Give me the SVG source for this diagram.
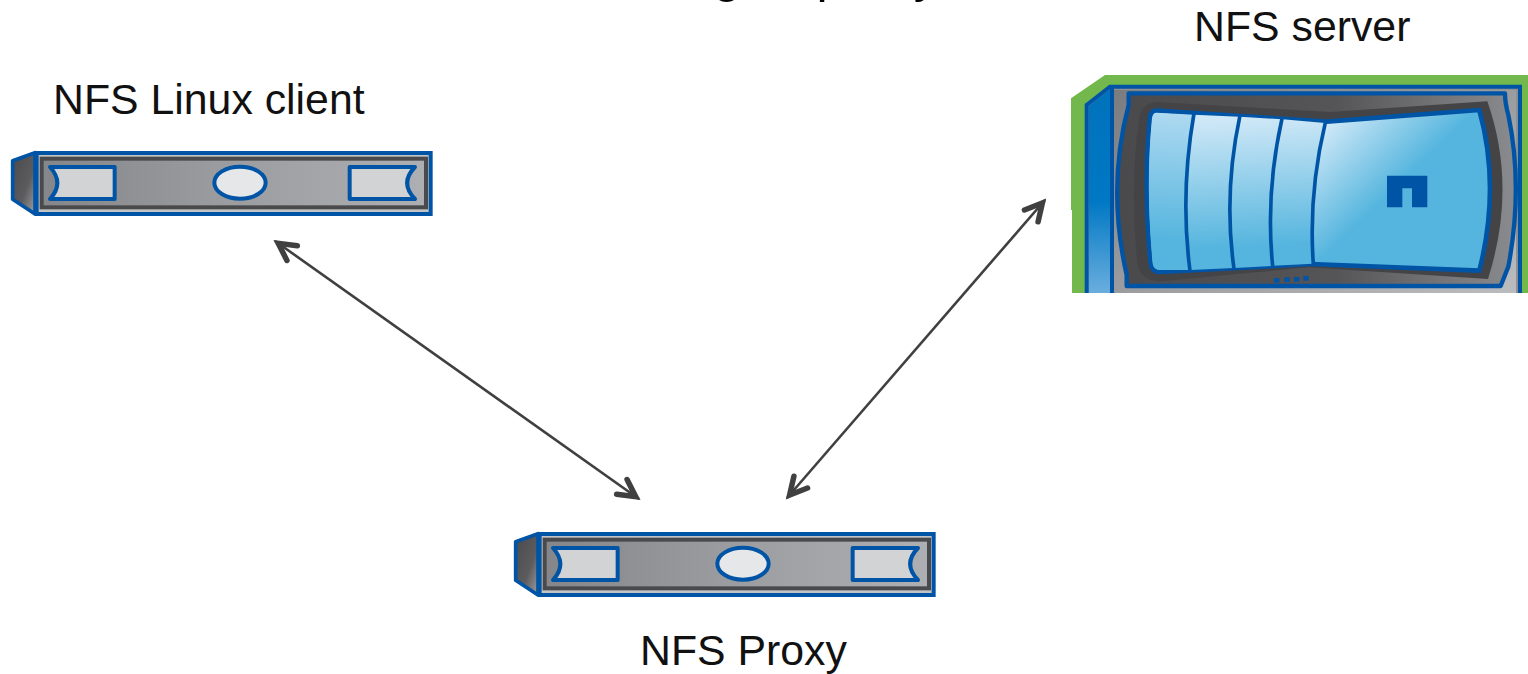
<svg xmlns="http://www.w3.org/2000/svg" xmlns:xlink="http://www.w3.org/1999/xlink" width="1528" height="674" viewBox="0 0 1528 674">
<style>
.lbl{font-family:"Liberation Sans",Arial,sans-serif;font-size:42.8px;fill:#111}
.title{font-family:"Liberation Sans",Arial,sans-serif;font-size:50px;fill:#000}
.conn{fill:none;stroke:#404040;stroke-width:2.6;marker-start:url(#arrow);marker-end:url(#arrow)}
.b{stroke:#0054a6;fill:none}
</style>
<defs>
<marker id="arrow" markerUnits="userSpaceOnUse" markerWidth="40" markerHeight="40" viewBox="-30 -20 40 40" refX="0" refY="0" orient="auto-start-reverse">
<polyline points="-21,-9 -4,0 -21,9" fill="none" stroke="#404040" stroke-width="5.5" stroke-linecap="round" stroke-linejoin="miter" stroke-miterlimit="10"/>
</marker>
<linearGradient id="rack" x1="0" x2="1" y1="0" y2="0"><stop offset="0" stop-color="#858689"/><stop offset=".45" stop-color="#9a9b9e"/><stop offset="1" stop-color="#aeafb2"/></linearGradient>
<linearGradient id="nose" x1="0" x2="1" y1="0" y2="1"><stop offset="0" stop-color="#4a4a4c"/><stop offset=".6" stop-color="#5c5c5e"/><stop offset="1" stop-color="#a0a0a2"/></linearGradient>
<linearGradient id="side" x1="0" x2="0" y1="0" y2="1"><stop offset="0" stop-color="#0072bc"/><stop offset=".55" stop-color="#0078c4"/><stop offset="1" stop-color="#6aaede"/></linearGradient>
<linearGradient id="glass" gradientUnits="userSpaceOnUse" x1="620" y1="170" x2="640" y2="600"><stop offset="0" stop-color="#cfe8f7"/><stop offset=".9" stop-color="#55b5de"/></linearGradient>
<linearGradient id="glass2" gradientUnits="userSpaceOnUse" x1="800" y1="190" x2="1030" y2="430"><stop offset="0" stop-color="#d0e9f7"/><stop offset=".85" stop-color="#55b5de"/></linearGradient>
<linearGradient id="glass3" gradientUnits="userSpaceOnUse" x1="360" y1="160" x2="340" y2="540"><stop offset="0" stop-color="#aed9f1"/><stop offset="1" stop-color="#55b5de"/></linearGradient>
<linearGradient id="bezel" x1="0" x2="1" y1="0" y2="0"><stop offset="0" stop-color="#4a4a4c"/><stop offset=".55" stop-color="#555557"/><stop offset="1" stop-color="#8a8b8e"/></linearGradient>
<linearGradient id="face" x1="0" x2="1" y1="0" y2="1"><stop offset="0" stop-color="#7b7c7f"/><stop offset="1" stop-color="#bbbcbf"/></linearGradient>
<g id="rackUnit" transform="scale(.33333)">
<path d="M38,62 L105,38 L105,222 L38,178 Z" fill="url(#nose)" stroke="#0054a6" stroke-width="11" stroke-linejoin="round"/>
<rect x="110" y="39" width="1182" height="183" fill="#c2c3c5" stroke="#0054a6" stroke-width="12"/>
<rect x="125" y="56" width="1153" height="146" fill="url(#rack)" stroke="#4a4a4c" stroke-width="12"/>
<path d="M150,81 L344,81 L344,177 L150,177 Q194,129 150,81 Z" fill="#d1d3d4" stroke="#0054a6" stroke-width="12" stroke-linejoin="round"/>
<path d="M1049,81 L1245,81 Q1198,129 1245,177 L1049,177 Z" fill="#d1d3d4" stroke="#0054a6" stroke-width="12" stroke-linejoin="round"/>
<ellipse cx="720" cy="128" rx="77" ry="48" fill="#e6e7e9" stroke="#0054a6" stroke-width="12"/>
</g>
</defs>
<rect width="1528" height="674" fill="#fff"/>
<text class="title" x="613" y="-8">Using a <tspan dx="20">proxy</tspan></text>
<g id="connectors">
<line class="conn" x1="275" y1="241" x2="639" y2="499"/>
<line class="conn" x1="1045" y1="200" x2="787" y2="498"/>
</g>
<g id="client">
<text class="lbl" x="53" y="114">NFS Linux client</text>
<use xlink:href="#rackUnit" href="#rackUnit" transform="translate(0,140)"/>
</g>
<g id="proxy">
<use xlink:href="#rackUnit" href="#rackUnit" transform="translate(503,521)"/>
<text class="lbl" x="640" y="665">NFS Proxy</text>
</g>
<g id="server">
<text class="lbl" x="1194" y="41">NFS server</text>
<g transform="translate(1060,60) scale(.33333)">
<path d="M33,115 L135,45 L1404,45 L1404,699 L36,699 L36,450 L33,450 Z" fill="#72b84d"/>
<path d="M80,135 L150,80 L1380,80 L1380,699 L80,699 Z" fill="#8f9093"/>
<path d="M86,138 L150,88 L150,699 L86,699 Z" fill="url(#side)"/>
<rect x="150" y="80" width="12" height="619" fill="#0054a6"/>
<rect x="162" y="90" width="1206" height="609" fill="url(#face)"/>
<path class="b" stroke-width="12" d="M80,699 L80,135 L150,80 L1380,80 L1380,699"/>
<path d="M206,100 L1335,100 Q1335,130 1345,165 Q1390,380 1345,620 L1322,678 L200,678 L200,645 Q140,380 206,135 Z" fill="url(#bezel)" stroke="#0054a6" stroke-width="13" stroke-linejoin="round"/>
<path d="M290,126 L810,156 L1282,124 Q1372,380 1284,657 L745,622 L300,664 Q240,662 232,610 Q208,380 238,170 Q248,128 290,126 Z" fill="#444446"/>
<path d="M290,152 L800,185 L1258,150 Q1322,380 1258,632 L752,612 L300,636 Q275,636 272,610 Q250,380 270,175 Q272,152 290,152 Z" fill="url(#glass2)" stroke="#0054a6" stroke-width="14" stroke-linejoin="round"/>
<path d="M290,158 L400,164 Q360,400 388,630 L300,630 Q280,630 278,610 Q256,380 276,175 Q278,158 290,158 Z" fill="url(#glass3)"/>
<path d="M402,164 L538,170 Q490,400 520,624 L392,630 Q362,400 402,164 Z" fill="url(#glass)"/>
<path d="M540,170 L664,178 Q615,400 636,618 L524,624 Q490,400 540,170 Z" fill="url(#glass)"/>
<path d="M668,178 L795,189 Q745,400 758,611 L640,617 Q618,400 668,178 Z" fill="url(#glass)"/>
<path class="b" stroke-width="11" d="M402,160 Q360,400 390,632 M540,166 Q490,400 522,626 M666,176 Q616,400 638,618 M796,188 Q745,400 760,612"/>
<path d="M981,347 L1102,347 L1102,442 L1056,442 L1056,385 L1027,385 L1027,442 L981,442 Z" fill="#0054a6"/>
<g fill="#0054a6"><rect x="642" y="654" width="16" height="14"/><rect x="673" y="652" width="16" height="14"/><rect x="702" y="651" width="16" height="14"/><rect x="730" y="648" width="16" height="14"/></g>
</g>
</g>
</svg>
